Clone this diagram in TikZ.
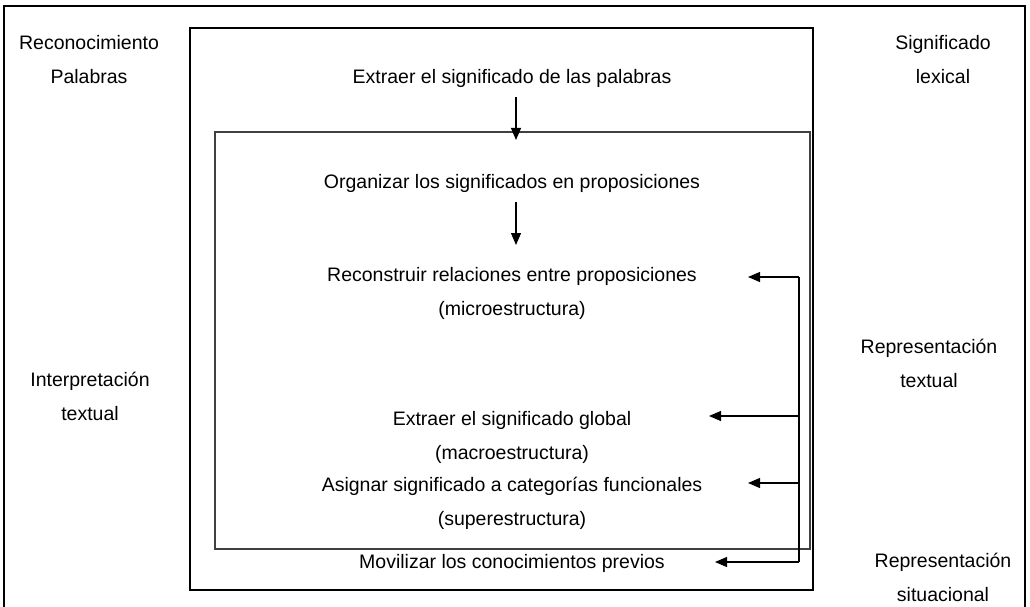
\documentclass[tikz,border=0pt]{standalone}
\usepackage{fontspec}
\setmainfont{Liberation Sans}
\usetikzlibrary{arrows.meta, positioning}

\begin{document}
\begin{tikzpicture}[x=1pt, y=-1pt,
    texto/.style={font=\fontsize{19.5}{34}\selectfont, align=center, inner sep=0pt},
    flecha/.style={-{Triangle[length=12pt,width=10pt]}, line width=1.1pt},
    marco/.style={line width=1.2pt}]
    \useasboundingbox (0,0) rectangle (1030,607);
    % marcos
    \draw[marco] (4,607) -- (4,6) -- (1025,6) -- (1025,607);
    \draw[marco] (190,28) rectangle (813,590);
    \draw[marco, black!75] (215,132) rectangle (810,549);
    % etiquetas laterales
    \node[texto] (reconoc) at (89,60) {Reconocimiento\\Palabras};
    \node[texto] (interp) at (90,396) {Interpretación\\textual};
    \node[texto] (lexical) at (943,60) {Significado\\lexical};
    \node[texto] (reptext) at (929,363) {Representación\\textual};
    \node[texto] (repsit) at (943,577) {Representación\\situacional};
    % procesos
    \node[texto] (palabras) at (512,78) {Extraer el significado de las palabras};
    \node[texto] (organizar) at (512,183) {Organizar los significados en proposiciones};
    \node[texto] (micro) at (512,293) {Reconstruir relaciones entre proposiciones\\(microestructura)};
    \node[texto] (macro) at (512,437) {Extraer el significado global\\(macroestructura)};
    \node[texto] (super) at (512,503) {Asignar significado a categorías funcionales\\(superestructura)};
    \node[texto] (movilizar) at (512,563) {Movilizar los conocimientos previos};
    % flechas verticales
    \coordinate (p1) at (516,97);
    \coordinate (p2) at (516,140);
    \coordinate (p3) at (516,202);
    \coordinate (p4) at (516,245);
    \draw[flecha] (p1) -- (p2);
    \draw[flecha] (p3) -- (p4);
    % retroalimentacion
    \coordinate (r1) at (799,277);
    \coordinate (r2) at (799,416);
    \coordinate (r3) at (799,483);
    \coordinate (r4) at (799,562);
    \coordinate (f1) at (748,277);
    \coordinate (f2) at (709,416);
    \coordinate (f3) at (748,483);
    \coordinate (f4) at (715,562);
    \draw[line width=1.1pt] (r1) -- (r4);
    \draw[flecha] (r1) -- (f1);
    \draw[flecha] (r2) -- (f2);
    \draw[flecha] (r3) -- (f3);
    \draw[flecha] (r4) -- (f4);
\end{tikzpicture}
\end{document}
